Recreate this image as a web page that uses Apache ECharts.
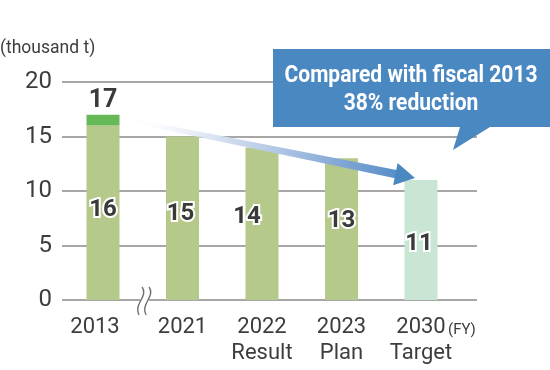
<!DOCTYPE html>
<html><head><meta charset="utf-8">
<script src="https://cdn.jsdelivr.net/npm/echarts@6/dist/echarts.min.js"></script>
<style>html,body{margin:0;padding:0;background:#fff}#c{width:550px;height:370px}</style>
</head><body><div id="c"></div>
<script>
// ---- data ----
const categories = ['2013', '2021', '2022', '2023', '2030'];
const subLabels = ['', '', 'Result', 'Plan', 'Target'];
const baseValues = [16, 15, 14, 13, 11];
const totalValues = [17, 15, 14, 13, 11];
const yMin = 0, yMax = 20, yStep = 5;
const unitLabel = '(thousand t)';
const fyLabel = '(FY)';
const calloutLines = ['Compared with fiscal 2013', '38% reduction'];

// ---- styles ----
const font = 'Roboto, "Noto Sans", sans-serif';
const textColor = '#3d3d3d';
const barColors = ['#b5c98a', '#b5c98a', '#b5c98a', '#b5c98a', '#c8e6d3'];
const topColor = '#67b958';
const blue = '#4a88c2';
const labelOffsets = [[0, -3], [-2, -4], [-15, -7], [0, -8], [-2, 4]];

const topSeg = totalValues.map((t, i) => t - baseValues[i]);
const catData = categories.map((c, i) => {
  const v = subLabels[i] ? c + '\n' + subLabels[i] : c;
  return i === 0 ? { value: v, textStyle: { padding: [0, 16, 0, 0] } } : v;
});

const chart = echarts.init(document.getElementById('c'), null, { renderer: 'canvas' });
chart.setOption({
  animation: false,
  grid: [
    { left: 62, right: 73, top: 82, bottom: 70 },
    { left: 63.25, right: 89.25, top: 82, bottom: 70 }
  ],
  xAxis: [
    { gridIndex: 0, type: 'value', show: false, min: 0, max: 1 },
    {
      gridIndex: 1, type: 'category', data: catData,
      axisLine: { show: false }, axisTick: { show: false },
      axisLabel: { interval: 0, hideOverlap: false, fontSize: 22, color: textColor, lineHeight: 26, margin: 14, fontFamily: font }
    }
  ],
  yAxis: [
    {
      gridIndex: 0, type: 'value', min: yMin, max: yMax, interval: yStep,
      axisLine: { show: false }, axisTick: { show: false },
      splitLine: { lineStyle: { color: '#8a8a8a', width: 1.5 } },
      axisLabel: { fontSize: 24, color: textColor, margin: 10, fontFamily: font }
    },
    { gridIndex: 1, type: 'value', min: yMin, max: yMax, interval: yStep, show: false }
  ],
  series: [
    {
      type: 'bar', xAxisIndex: 1, yAxisIndex: 1, stack: 'a', barWidth: 33,
      data: baseValues.map((v, i) => ({
        value: v,
        itemStyle: { color: barColors[i] },
        label: { offset: labelOffsets[i] }
      })),
      label: {
        show: true, position: 'inside', formatter: '{c}',
        fontSize: 24, fontWeight: 'bold', fontFamily: font, color: '#3a3a3a',
        textBorderColor: '#fff', textBorderWidth: 4
      }
    },
    {
      type: 'bar', xAxisIndex: 1, yAxisIndex: 1, stack: 'a', barWidth: 33,
      itemStyle: { color: topColor },
      data: topSeg,
      label: {
        show: true, position: 'top', distance: 1,
        formatter: p => (p.value ? String(totalValues[p.dataIndex]) : ''),
        fontSize: 25, fontWeight: 'bold', fontFamily: font, color: '#3a3a3a'
      }
    }
  ]
});

// ---- decorations ----
const p0 = chart.convertToPixel({ seriesIndex: 0 }, [0, totalValues[0]]);
const p4 = chart.convertToPixel({ seriesIndex: 0 }, [4, totalValues[4]]);
const start = [p0[0] + 18, p0[1] + 4];
const tip = [p4[0] - 6, p4[1] - 2];
const dx = tip[0] - start[0], dy = tip[1] - start[1];
const len = Math.hypot(dx, dy);
const ux = dx / len, uy = dy / len;
const nx = -uy, ny = ux;
const headLen = 20, headHalf = 11.3;
const baseMid = [tip[0] - ux * headLen, tip[1] - uy * headLen];
const lineEnd = [tip[0] - ux * (headLen - 3), tip[1] - uy * (headLen - 3)];
const c1 = [baseMid[0] + nx * headHalf, baseMid[1] + ny * headHalf];
const c2 = [baseMid[0] - nx * headHalf, baseMid[1] - ny * headHalf];
const w0 = 2.2, w1 = 4.2;
const shaft = [
  [start[0] + nx * w0, start[1] + ny * w0],
  [lineEnd[0] + nx * w1, lineEnd[1] + ny * w1],
  [lineEnd[0] - nx * w1, lineEnd[1] - ny * w1],
  [start[0] - nx * w0, start[1] - ny * w0]
];

const ctx = document.createElement('canvas').getContext('2d');
ctx.font = 'bold 23px Roboto';
const sx = 253 / ctx.measureText(calloutLines[0]).width;

const axisY = chart.convertToPixel({ seriesIndex: 0 }, [0, 0])[1];
const brk = (cx) => ({
  type: 'bezierCurve', z: 20,
  shape: { x1: cx + 2, y1: axisY - 13, cpx1: cx + 9, cpy1: axisY - 4, cpx2: cx - 7, cpy2: axisY + 4, x2: cx - 1, y2: axisY + 15 },
  style: { stroke: '#6e6e6e', lineWidth: 1.4, fill: null }
});

chart.setOption({
  graphic: [
    {
      type: 'text', left: 0, top: 40, z: 10,
      style: { text: unitLabel, font: '17.5px ' + font, fill: textColor }
    },
    {
      type: 'text', x: p4[0] + 27, y: axisY + 30, z: 10,
      style: { text: fyLabel, font: '15px ' + font, fill: textColor, textAlign: 'left', textVerticalAlign: 'middle' }
    },
    { type: 'rect', z: 15, shape: { x: 140, y: axisY - 3, width: 9, height: 6 }, style: { fill: '#fff' } },
    brk(140), brk(147),
    {
      type: 'polygon', z: 30,
      shape: { points: shaft },
      style: {
        fill: {
          type: 'linear', global: true, x: start[0], y: start[1], x2: tip[0], y2: tip[1],
          colorStops: [
            { offset: 0, color: 'rgba(255,255,255,0)' },
            { offset: 0.3, color: '#dce5f3' },
            { offset: 0.5, color: '#b8cbe7' },
            { offset: 0.75, color: '#80a6d6' },
            { offset: 1, color: '#4a88c2' }
          ]
        }
      }
    },
    {
      type: 'polygon', z: 31,
      shape: { points: [tip, c1, c2] },
      style: { fill: '#4a88c2' }
    },
    {
      type: 'polygon', z: 40,
      shape: { points: [[273, 49], [552, 49], [552, 127], [490, 127], [453, 150], [460, 127], [273, 127]] },
      style: { fill: blue }
    },
    {
      type: 'text', x: 411, y: 76, scaleX: sx, z: 41,
      style: { text: calloutLines[0], font: 'bold 23px Roboto', fill: '#fff', textAlign: 'center', textVerticalAlign: 'middle' }
    },
    {
      type: 'text', x: 411, y: 104, scaleX: sx, z: 41,
      style: { text: calloutLines[1], font: 'bold 23px Roboto', fill: '#fff', textAlign: 'center', textVerticalAlign: 'middle' }
    }
  ]
});
</script>
</body></html>
